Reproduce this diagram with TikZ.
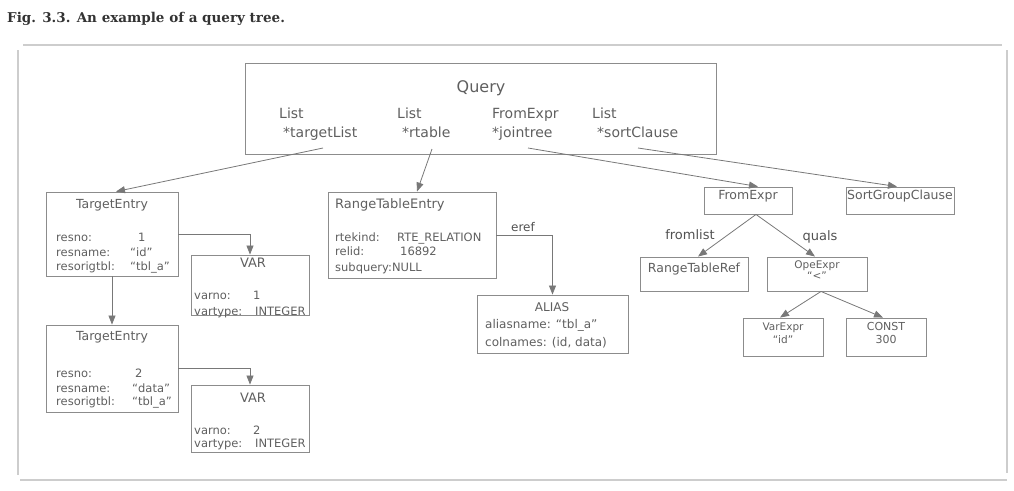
\documentclass[tikz,border=0pt]{standalone}
\usepackage{fontspec}
\setmainfont{DejaVu Sans}
\newfontfamily\capfont{DejaVu Serif}
\usepackage{tikz}
\usetikzlibrary{arrows.meta,positioning,calc,fit}
\usepackage{xcolor}
\definecolor{boxgray}{RGB}{140,140,140}
\definecolor{linegray}{RGB}{120,120,120}
\definecolor{txtgray}{RGB}{95,95,95}
\definecolor{framegray}{RGB}{205,205,205}
\newcommand{\fsz}[1]{\fontsize{#1}{#1}\selectfont}

\begin{document}
\begin{tikzpicture}[
                x=1pt,y=-1pt,
                box/.style={draw=boxgray,line width=0.9pt,inner sep=0pt,text=txtgray,font=\fsz{12.5},align=center},
                head/.style={anchor=base,inner sep=0pt,text=txtgray,font=\fsz{12.5}},
                qfield/.style={anchor=base west,inner sep=0pt,text=txtgray,font=\fsz{14}},
                field/.style={anchor=base west,inner sep=0pt,text=txtgray,font=\fsz{11.5}},
                lbl/.style={inner sep=0pt,text=txtgray!85!black,font=\fsz{13}},
                arr/.style={draw=linegray,line width=0.8pt,-{Triangle[length=9pt,width=7pt]}}
            ]
                \useasboundingbox (0,0) rectangle (1014,490);

                % Caption
                \node[anchor=base west,inner sep=0pt,font=\capfont\bfseries\fsz{13.5},text=black!80] (caption) at (7,22.5) {Fig. 3.3. An example of a query tree.};

                % Frame
                \draw[framegray,line width=1.2pt] (23,45) -- (1002,45);
                \draw[framegray,line width=1.2pt] (18,50) -- (18,475);
                \draw[framegray,line width=1.2pt] (1007,50) -- (1007,473);
                \draw[framegray,line width=1.6pt] (20,480) -- (1007,480);

                % Query
                \node[box,fit={(245,63)(716,154)}] (query) {};
                \node[head,font=\fsz{16}] (qtitle) at (481,92.5) {Query};
                \node[qfield] (tlhead) at (279,118) {List};
                \node[qfield] (tlist) at (283,137.5) {*targetList};
                \node[qfield] (rthead) at (397,118) {List};
                \node[qfield] (rtable) at (402,137.5) {*rtable};
                \node[qfield] (jthead) at (492,118) {FromExpr};
                \node[qfield] (jtree) at (492,137.5) {*jointree};
                \node[qfield] (schead) at (592,118) {List};
                \node[qfield] (sclause) at (597,137.5) {*sortClause};
                \coordinate (tlfoot) at (323,148);
                \coordinate (rtfoot) at (432,149);
                \coordinate (jtfoot) at (528,148);
                \coordinate (scfoot) at (638,148);

                % Target entries
                \node[box,fit={(46,192)(178,276)}] (te1) {};
                \node[head] (te1title) at (112,208) {TargetEntry};
                \node[field] (te1f1) at (56,241) {resno:};
                \node[field] (te1f2) at (56,256) {resname:};
                \node[field] (te1f3) at (56,270) {resorigtbl:};
                \node[field] (te1v1) at (138,241) {1};
                \node[field] (te1v2) at (130,256) {“id”};
                \node[field] (te1v3) at (130,270) {“tbl\_a”};

                \node[box,fit={(46,325)(178,412)}] (te2) {};
                \node[head] (te2title) at (112,340) {TargetEntry};
                \node[field] (te2f1) at (56,377) {resno:};
                \node[field] (te2f2) at (56,392) {resname:};
                \node[field] (te2f3) at (56,405) {resorigtbl:};
                \node[field] (te2v1) at (135,377) {2};
                \node[field] (te2v2) at (132,392) {“data”};
                \node[field] (te2v3) at (132,405) {“tbl\_a”};

                % Vars
                \node[box,fit={(191,255)(309,315)}] (var1) {};
                \node[head,font=\fsz{13}] (var1title) at (253,267) {VAR};
                \node[field] (var1f1) at (194,299) {varno:};
                \node[field] (var1f2) at (194,315) {vartype:};
                \node[field] (var1v1) at (253,299) {1};
                \node[field] (var1v2) at (255,315) {INTEGER};

                \node[box,fit={(191,385)(309,452)}] (var2) {};
                \node[head,font=\fsz{13}] (var2title) at (253,402) {VAR};
                \node[field] (var2f1) at (194,434) {varno:};
                \node[field] (var2f2) at (194,447) {vartype:};
                \node[field] (var2v1) at (253,434) {2};
                \node[field] (var2v2) at (255,447) {INTEGER};

                % Range table
                \node[box,fit={(328,192)(496,278)}] (rte) {};
                \node[head,anchor=base west,font=\fsz{13}] (rtetitle) at (335,208) {RangeTableEntry};
                \node[field] (rtef1) at (335,241) {rtekind:};
                \node[field] (rtef2) at (335,255) {relid:};
                \node[field] (rtef3) at (335,271) {subquery:NULL};
                \node[field] (rtev1) at (397,241) {RTE\_RELATION};
                \node[field] (rtev2) at (400,255) {16892};

                \node[box,fit={(477,295)(628,353)}] (alias) {};
                \node[head,font=\fsz{12}] (aliastitle) at (552,311) {ALIAS};
                \node[field,font=\fsz{12}] (aliasf1) at (485,328) {aliasname: “tbl\_a”};
                \node[field,font=\fsz{12}] (aliasf2) at (485,346) {colnames: (id, data)};

                % Join tree
                \node[box,fit={(704,187)(792,214)}] (fromexpr) {FromExpr};
                \node[box,fit={(846,187)(954,214)}] (sortgroup) {SortGroupClause};
                \node[box,fit={(640,257)(748,291)}] (rtref) {RangeTableRef};
                \node[box,fit={(767,257)(867,291)},font=\fsz{10.5}] (opeexpr) {OpeExpr\\[1pt]“<”};
                \node[box,fit={(743,318)(823,356)},font=\fsz{10.5}] (varexpr) {VarExpr\\[2pt]“id”};
                \node[box,fit={(846,318)(926,356)},font=\fsz{11}] (const) {CONST\\[2pt]300};

                % Connections
                \draw[arr] (tlfoot) -- ($(te1.north)+(4,0)$);
                \draw[arr] (rtfoot) -- ($(rte.north)+(5,0)$);
                \draw[arr] (jtfoot) -- ($(fromexpr.north)+(10,0)$);
                \draw[arr] (scfoot) -- ($(sortgroup.north)+(-3,0)$);
                \draw[arr] (te1.east) -| (var1.north);
                \draw[arr] (te1.south) -- (te2.north);
                \draw[arr] (te2.east) -| (var2.north);
                \draw[arr] (rte.east) -| (alias.north);
                \draw[arr] ($(fromexpr.south)+(8,0)$) -- ($(rtref.north)+(4,0)$);
                \draw[arr] ($(fromexpr.south)+(8,0)$) -- ($(opeexpr.north)+(-2,0)$);
                \draw[arr] ($(opeexpr.south)+(4,0)$) -- ($(varexpr.north)+(-3,0)$);
                \draw[arr] ($(opeexpr.south)+(4,0)$) -- ($(const.north)+(-3,0)$);

                % Labels
                \node[lbl,font=\fsz{12}] (ereflbl) at (523,227) {eref};
                \node[lbl] (fromlistlbl) at (690,235) {fromlist};
                \node[lbl] (qualslbl) at (820,237) {quals};
            \end{tikzpicture}
\end{document}
